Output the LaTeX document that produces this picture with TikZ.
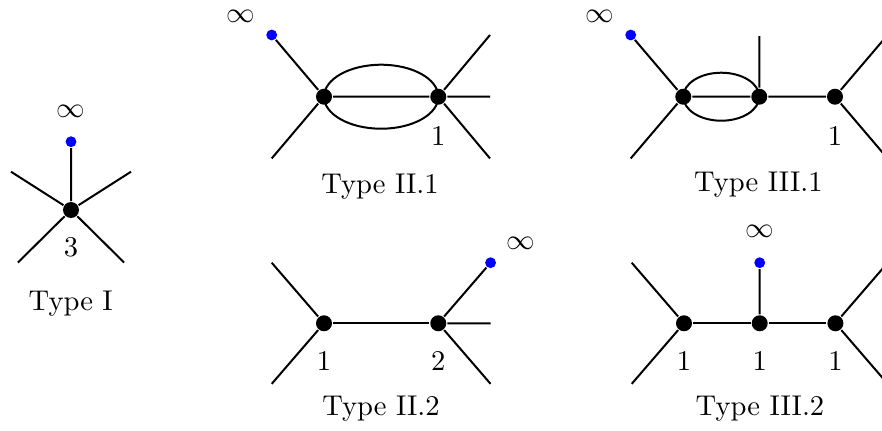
\documentclass[tikz,border=0pt]{standalone}
\usepackage{amsmath,amssymb}
\usepackage{tikz}
\usetikzlibrary{positioning,calc}
\tikzset{
  vertex/.style={circle,fill=black,inner sep=0pt,minimum size=5.6pt},
  leaf/.style={circle,fill=blue,inner sep=0pt,minimum size=3.8pt},
  wt/.style={inner sep=1pt},
}

\begin{document}
\begin{tikzpicture}[
x=1pt,y=1pt,
line width=0.7pt,
on grid
]
\useasboundingbox (0,0) rectangle (308.7,150.5);
\clip (0,0) rectangle (308.7,150.5);

% Type I
\node[vertex] (v) at (24.85,77) {};
\node[leaf,above=23.9pt of v] (vinf) {};
\node[wt,above=10.7pt of vinf] (vinflbl) {$\infty$};
\coordinate[above left=13.4pt and 21pt of v] (v1);
\coordinate[above right=13.4pt and 21pt of v] (v2);
\coordinate[below left=18.4pt and 18.6pt of v] (v3);
\coordinate[below right=18.4pt and 18.6pt of v] (v4);
\node[wt,below=13.1pt of v] (vw) {$3$};
\node (vcap) at (24.75,44.1) {Type I};
\draw (v) -- (vinf) (v) -- (v1) (v) -- (v2) (v) -- (v3) (v) -- (v4);

% Type II.1
\node[vertex] (a) at (113.4,116.65) {};
\node[vertex,right=40pt of a] (b) {};
\node[leaf,above left=21.6pt and 18.3pt of a] (ainf) {};
\node[wt,above left=6.4pt and 10.7pt of ainf] (ainflbl) {$\infty$};
\coordinate[below left=21.6pt and 18.3pt of a] (a1);
\coordinate[above right=21.6pt and 18.1pt of b] (b1);
\coordinate[right=18.1pt of b] (b2);
\coordinate[below right=21.6pt and 18.1pt of b] (b3);
\node[wt,below=14pt of b] (bw) {$1$};
\node (abcap) at (133,85.15) {Type II.1};
\draw (a) -- (b) ($(a)!0.5!(b)$) ellipse [x radius=20pt,y radius=11.2pt];
\draw (a) -- (ainf) (a) -- (a1) (b) -- (b1) (b) -- (b2) (b) -- (b3);

% Type III.1
\node[vertex] (p) at (239.15,116.65) {};
\node[vertex,right=26.6pt of p] (q) {};
\node[vertex,right=26.5pt of q] (r) {};
\node[leaf,above left=21.6pt and 18.4pt of p] (pinf) {};
\node[wt,above left=6.4pt and 10.7pt of pinf] (pinflbl) {$\infty$};
\coordinate[below left=21.6pt and 18.4pt of p] (p1);
\coordinate[above=21.2pt of q] (q1);
\coordinate[above right=21.6pt and 18.4pt of r] (r1);
\coordinate[below right=21.6pt and 18.4pt of r] (r2);
\node[wt,below=14pt of r] (rw) {$1$};
\node (pqcap) at (265.4,85.75) {Type III.1};
\draw (p) -- (q) -- (r) ($(p)!0.5!(q)$) ellipse [x radius=13.3pt,y radius=8.4pt];
\draw (p) -- (pinf) (p) -- (p1) (q) -- (q1) (r) -- (r1) (r) -- (r2);

% Type II.2
\node[vertex] (c) at (113.4,37.35) {};
\node[vertex,right=40pt of c] (d) {};
\coordinate[above left=21.2pt and 18.3pt of c] (c1);
\coordinate[below left=21.2pt and 18.3pt of c] (c2);
\node[leaf,above right=21.2pt and 18.3pt of d] (dinf) {};
\node[wt,above right=6.7pt and 10.4pt of dinf] (dinflbl) {$\infty$};
\coordinate[right=18.3pt of d] (d1);
\coordinate[below right=21.2pt and 18.3pt of d] (d2);
\node[wt,below=13.4pt of c] (cw) {$1$};
\node[wt,below=13.4pt of d] (dw) {$2$};
\node (cdcap) at (133.35,7.35) {Type II.2};
\draw (c) -- (d);
\draw (c) -- (c1) (c) -- (c2) (d) -- (dinf) (d) -- (d1) (d) -- (d2);

% Type III.2
\node[vertex] (s) at (239.4,37.35) {};
\node[vertex,right=26.5pt of s] (t) {};
\node[vertex,right=26.5pt of t] (u) {};
\coordinate[above left=21.2pt and 18.3pt of s] (s1);
\coordinate[below left=21.2pt and 18.3pt of s] (s2);
\node[leaf,above=21.2pt of t] (tinf) {};
\node[wt,above=10.9pt of tinf] (tinflbl) {$\infty$};
\coordinate[above right=21.2pt and 18.3pt of u] (u1);
\coordinate[below right=21.2pt and 18.3pt of u] (u2);
\node[wt,below=13.4pt of s] (sw) {$1$};
\node[wt,below=13.4pt of t] (tw) {$1$};
\node[wt,below=13.4pt of u] (uw) {$1$};
\node (stcap) at (266,7.35) {Type III.2};
\draw (s) -- (t) -- (u);
\draw (s) -- (s1) (s) -- (s2) (t) -- (tinf) (u) -- (u1) (u) -- (u2);
\end{tikzpicture}
\end{document}
